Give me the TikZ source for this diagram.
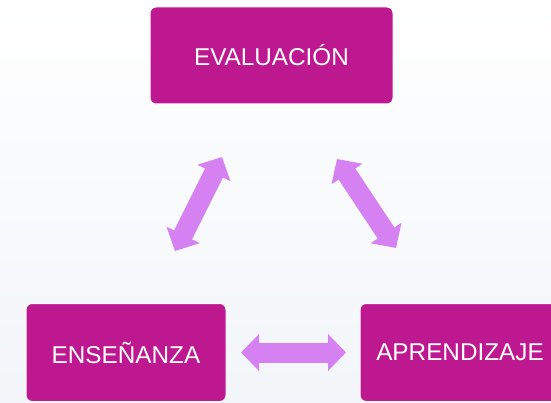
\documentclass[tikz,border=0pt]{standalone}
\usepackage{fontspec}
\setmainfont{Liberation Sans}
\usetikzlibrary{arrows.meta}
\definecolor{boxmag}{HTML}{BE1891}
\definecolor{arrviolet}{HTML}{D581F2}
\definecolor{bgbottom}{HTML}{F2F5F9}
\tikzset{
  stagebox/.style={fill=boxmag, draw=white, line width=1pt, rounded corners=6pt,
    text=white, font=\fontsize{24.3}{28}\selectfont, inner sep=0pt, anchor=center},
  bigarrow/.style={draw=arrviolet, line width=20pt,
    {Triangle[width=36pt,length=18pt,fill=arrviolet]}-{Triangle[width=36pt,length=18pt,fill=arrviolet]}}
}
\begin{document}
\begin{tikzpicture}[x=1pt,y=-1pt]
  \useasboundingbox (0,0) rectangle (551,403);
  \clip (0,0) rectangle (551,403);
  \shade[top color=white, bottom color=bgbottom] (0,0) rectangle (551,403);
  \node[stagebox, minimum width=243pt, minimum height=97pt] (eval) at (271.5,55.5) {EVALUACIÓN};
  \node[stagebox, minimum width=200pt, minimum height=98pt] (ens) at (126,352.5) {ENSEÑANZA};
  \node[stagebox, minimum width=200pt, minimum height=98pt] (apr) at (460,352.5) {APRENDIZAJE};
  \coordinate (l1) at (222,157);
  \coordinate (l2) at (175,251);
  \coordinate (r1) at (337,159);
  \coordinate (r2) at (396,248);
  \coordinate (h1) at (241,352.5);
  \coordinate (h2) at (346,352.5);
  \draw[bigarrow] (l1) -- (l2);
  \draw[bigarrow] (r1) -- (r2);
  \draw[bigarrow] (h1) -- (h2);
\end{tikzpicture}
\end{document}
